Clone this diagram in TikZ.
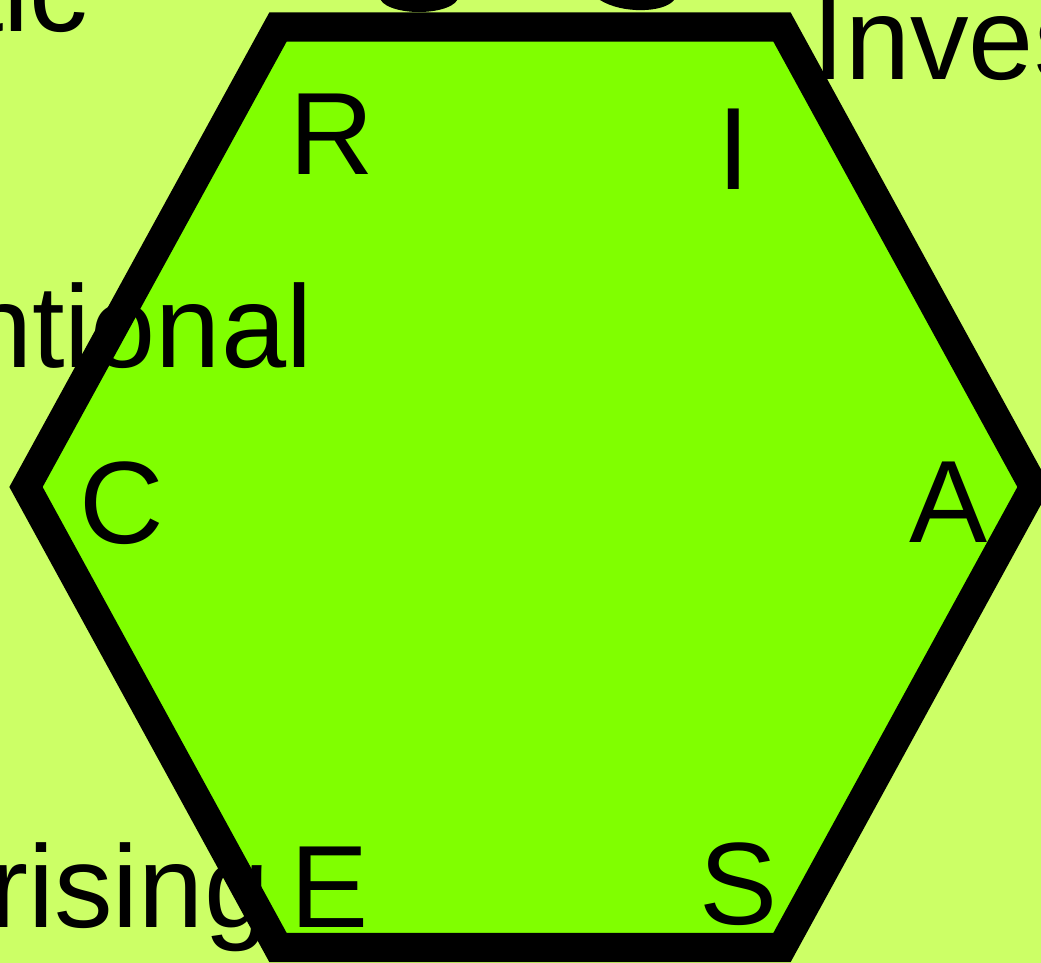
\documentclass[tikz,border=0pt]{standalone}
\usepackage{fontspec}
\setmainfont{Liberation Sans}
\definecolor{bgback}{RGB}{204,255,102}
\definecolor{hexfill}{RGB}{128,255,0}

\begin{document}
\begin{tikzpicture}[line join=miter, x=0.01cm, y=-0.01cm,
	lbl/.style={inner sep=0pt, font=\fontsize{33.3}{40}\selectfont}]
	\fill[bgback] (0, 0) rectangle (1041, 963);
	\useasboundingbox (0, 0) rectangle (1041, 963);
	% glyph ends reaching in from above
	\fill (419, -3) ellipse (39 and 15);
	\fill (600, 0) .. controls (622, 14) and (664, 13) .. (674, 0) -- cycle;
	\coordinate (L) at (26, 487);
	\coordinate (TL) at (278, 27);
	\coordinate (TR) at (782, 27);
	\coordinate (R) at (1034, 487);
	\coordinate (BR) at (782, 947.5);
	\coordinate (BL) at (278, 947.5);
	\draw[line width=8.3pt, fill=hexfill] (L) -- (TL) -- (TR) -- (R) -- (BR) -- (BL) -- cycle;
	\foreach \x/\y/\l in {332/174/R, 734/189/I, 121.5/543/C, 948.5/542/A, 330/927/E, 738.5/924/S}
		\node[lbl, anchor=base] (code\l) at (\x, \y) {\l};
	\node[lbl, anchor=base west] (investigative) at (812, 79) {Investigative};
	\node[lbl, anchor=base east] (realistic) at (89, 31) {Realistic};
	\node[lbl, anchor=base east] (conventional) at (313, 367) {Conventional};
	\node[lbl, anchor=base east] (enterprising) at (270, 927) {Enterprising};
\end{tikzpicture}
\end{document}
